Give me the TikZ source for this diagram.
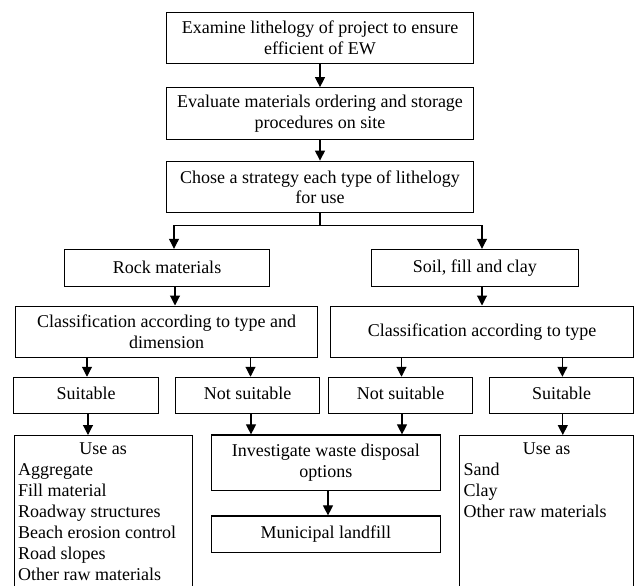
\documentclass[tikz,border=0pt]{standalone}
\usepackage{fontspec}
\setmainfont{Liberation Serif}
\usetikzlibrary{arrows.meta}
\begin{document}
\begin{tikzpicture}[x=1pt,y=-1pt,
  box/.style={draw, line width=1.1pt, rectangle, inner sep=0pt, align=center,
    font=\fontsize{18}{20.5}\selectfont},
  txt/.style={inner sep=0pt, align=left, font=\fontsize{18}{21}\selectfont},
  arr/.style={line width=1.1pt, -{Triangle[length=10pt,width=10pt]}}]
\useasboundingbox (0,0) rectangle (635,586);
\clip (0,0) rectangle (635,586);
% top chain
\node[box, minimum width=307.7pt, minimum height=51pt] (b1) at (320,37.8)
  {Examine lithelogy of project to ensure\\efficient of EW};
\node[box, minimum width=307.7pt, minimum height=51.6pt] (b2) at (320,113.5)
  {Evaluate materials ordering and storage\\procedures on site};
\node[box, minimum width=307.7pt, minimum height=51.7pt] (b3) at (320,187)
  {Chose a strategy each type of lithelogy\\for use};
% second level
\node[box, minimum width=204.4pt, minimum height=36.7pt] (rock) at (167,267.7) {Rock materials};
\node[box, minimum width=206.3pt, minimum height=36.7pt] (soil) at (474.9,267.7) {Soil, fill and clay};
\node[box, minimum width=302.4pt, minimum height=51.3pt] (cl1) at (166.6,331.7)
  {Classification according to type and\\dimension};
\node[box, minimum width=303.2pt, minimum height=51.3pt] (cl2) at (482,331.7)
  {Classification according to type};
% suitability
\node[box, minimum width=144.5pt, minimum height=36pt] (s1) at (86,395.3) {Suitable\strut};
\node[box, minimum width=144.5pt, minimum height=36pt] (n1) at (247.5,395.3) {Not suitable\strut};
\node[box, minimum width=143.8pt, minimum height=36pt] (n2) at (400.6,395.3) {Not suitable\strut};
\node[box, minimum width=143.7pt, minimum height=36pt] (s2) at (561.7,395.3) {Suitable\strut};
% outcomes
\node[box, minimum width=178.1pt, minimum height=170pt, anchor=north] (u1) at (103.2,435) {};
\node[box, minimum width=228.3pt, minimum height=55.7pt] (inv) at (325.9,462.8)
  {Investigate waste disposal\\options};
\node[box, minimum width=228.3pt, minimum height=36.7pt] (mun) at (325.9,534.3) {Municipal landfill\strut};
\node[box, minimum width=174.1pt, minimum height=170pt, anchor=north] (u2) at (546.6,435) {};
% texts inside use-as boxes
\node[txt, anchor=base] (u1h) at (103.2,454) {Use as};
\node[txt, anchor=base west] (u1l) at (18,580)
  {Aggregate\\Fill material\\Roadway structures\\Beach erosion control\\Road slopes\\Other raw materials};
\node[txt, anchor=base] (u2h) at (546.6,454) {Use as};
\node[txt, anchor=base west] (u2l) at (463.5,517) {Sand\\Clay\\Other raw materials};
% connectors
\draw[arr] (b1) -- (b2);
\draw[arr] (b2) -- (b3);
\coordinate (jl) at (174,225.7);
\coordinate (jr) at (482,225.7);
\draw[line width=1.1pt] (b3.south) -- (b3.south |- jl);
\draw[arr] (jl -| b3.south) -- (jl) -- (jl |- rock.north);
\draw[arr] (jr -| b3.south) -- (jr) -- (jr |- soil.north);
\draw[arr] (175,0 |- rock.south) -- (175,0 |- cl1.north);
\draw[arr] (482,0 |- soil.south) -- (482,0 |- cl2.north);
\draw[arr] (87,0 |- cl1.south) -- (87,0 |- s1.north);
\draw[arr] (250.5,0 |- cl1.south) -- (250.5,0 |- n1.north);
\draw[arr] (401.5,0 |- cl2.south) -- (401.5,0 |- n2.north);
\draw[arr] (562.4,0 |- cl2.south) -- (562.4,0 |- s2.north);
\draw[arr] (88,0 |- s1.south) -- (88,0 |- u1.north);
\draw[arr] (251,0 |- n1.south) -- (251,0 |- inv.north);
\draw[arr] (402,0 |- n2.south) -- (402,0 |- inv.north);
\draw[arr] (562.8,0 |- s2.south) -- (562.8,0 |- u2.north);
\draw[arr] (328,0 |- inv.south) -- (328,0 |- mun.north);
\end{tikzpicture}
\end{document}
